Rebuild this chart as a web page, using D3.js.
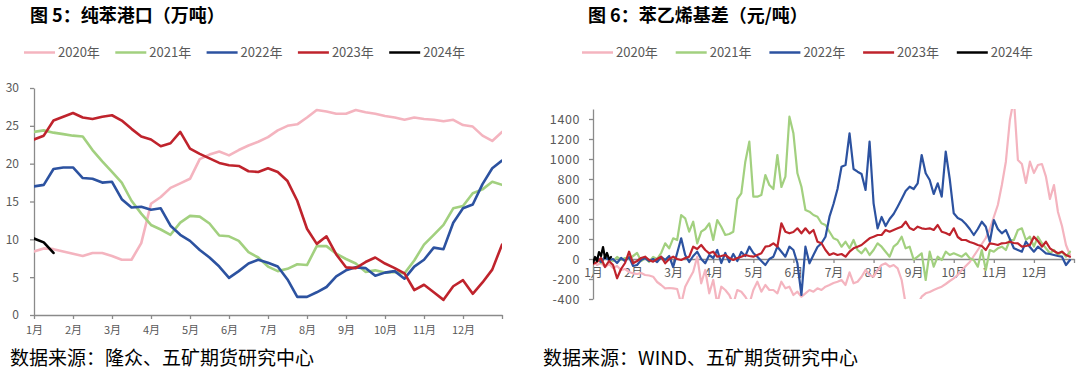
<!DOCTYPE html>
<html>
<head>
<meta charset="utf-8">
<script src="https://cdn.jsdelivr.net/npm/d3@7"></script>
<style>
  body { margin: 0; background: #fff; }
  svg text { font-family: "Noto Sans CJK SC", "Noto Sans", sans-serif; }
</style>
</head>
<body>
<svg id="chart" width="1080" height="374"></svg>
<script>
var months = ['1月', '2月', '3月', '4月', '5月', '6月', '7月', '8月', '9月', '10月', '11月', '12月'];
var years = ['2020年', '2021年', '2022年', '2023年', '2024年'];
var colors = ['#F4B4BF', '#A2D07F', '#2C52A0', '#BF232C', '#000000'];

// 图5 纯苯港口库存 (万吨), one value every quarter month
var portStep = 0.25;
var port2020 = [8.4, 8.8, 8.7, 8.4, 8.1, 7.8, 8.2, 8.2, 7.8, 7.3, 7.3, 9.5, 14.7, 15.6, 16.8, 17.4, 18.0, 20.6, 21.2, 21.6,
  21.1, 21.8, 22.4, 22.9, 23.5, 24.4, 25.0, 25.2, 26.1, 27.1, 26.9, 26.6, 26.6, 27.1, 26.8, 26.6, 26.3, 26.1, 25.8, 26.1,
  25.9, 25.8, 25.6, 25.8, 25.1, 24.9, 23.7, 23.0, 24.2];
var port2021 = [24.2, 24.4, 24.1, 23.9, 23.7, 23.6, 21.8, 20.3, 18.9, 17.5, 15.1, 13.4, 11.9, 11.3, 10.6, 12.2, 13.1, 13.0, 12.1, 10.5,
  10.4, 9.8, 8.3, 7.6, 6.4, 5.8, 6.1, 6.7, 6.6, 9.1, 9.1, 8.1, 7.4, 6.8, 5.7, 5.9, 5.6, 5.7, 5.5, 7.2,
  9.3, 10.6, 11.9, 14.1, 14.4, 16.1, 16.6, 17.6, 17.2];
var port2022 = [17.0, 17.2, 19.3, 19.5, 19.5, 18.1, 18.0, 17.5, 17.6, 15.3, 14.2, 14.3, 13.9, 14.1, 11.8, 10.6, 9.8, 8.6, 7.6, 6.4,
  4.9, 5.8, 6.8, 7.3, 6.9, 6.4, 4.7, 2.4, 2.4, 3.0, 3.7, 5.1, 5.9, 6.3, 6.2, 5.2, 5.6, 5.8, 4.8, 6.4,
  7.3, 8.9, 8.7, 12.2, 14.1, 14.6, 17.3, 19.4, 20.4];
var port2023 = [23.2, 23.7, 25.7, 26.2, 26.7, 26.1, 25.9, 26.2, 26.4, 25.7, 24.6, 23.6, 23.2, 22.3, 22.7, 24.2, 22.0, 21.3, 20.7, 20.1,
  19.8, 19.7, 19.0, 18.9, 19.4, 18.9, 17.7, 15.1, 11.4, 9.4, 10.4, 8.0, 6.3, 6.2, 7.0, 7.6, 6.8, 6.2, 5.5, 3.3,
  4.0, 3.0, 2.0, 3.8, 4.6, 2.8, 4.3, 6.0, 9.3];
var port2024 = [10.1, 9.6, 8.2];
var portTicks = [0, 5, 10, 15, 20, 25, 30];

// 图6 苯乙烯基差 (元/吨), one value every tenth of a month
var basisStep = 0.1;
var basis2020 = [-20, -60, -40, -80, -50, -90, -70, -110, -100, -130,
  -143, -150, -140, -160, -165, -177, -230, -260, -293, -290,
  -293, -300, -450, -277, -200, -127, 23, -243, -110, -343,
  -210, -450, -277, -310, -360, -450, -310, -327, -377, -450,
  -310, -227, -327, -260, -310, -310, -343, -227, -293, -277,
  -360, -327, -377, -343, -310, -327, -293, -310, -277, -260,
  -240, -227, -210, -260, -133, -243, -227, -177, -110, -160,
  -177, -110, -60, -43, -77, -60, -93, -210, -450, -500,
  -500, -450, -377, -343, -330, -310, -293, -277, -250, -220,
  -193, -160, -110, -70, -30, 30, 90, 150, 210, 300,
  420, 540, 740, 973, 1390, 1600, 990, 950, 760, 973,
  860, 940, 950, 823, 600, 740, 470, 330, 140, 40];
var basis2021 = [-30, 10, -40, 30, 0, -20, 20, -10, 10, 0,
  30, 60, -20, 10, -30, 20, 0, 60, 157, 107,
  207, 190, 440, 407, 273, 373, 157, 273, 300, 357,
  190, 390, 323, 240, 250, 273, 600, 657, 973, 1173,
  623, 623, 640, 840, 740, 700, 1040, 720, 823, 1423,
  1257, 857, 723, 490, 473, 440, 423, 357, 340, 273,
  207, 190, 123, 173, 107, 190, 90, 57, 107, 40,
  90, 157, 123, 73, 23, 123, 157, 223, 107, 123,
  -7, 23, 57, -210, 73, -77, 23, -10, 73, 40,
  57, 40, 23, 57, 7, -10, -77, 90, -110, 90,
  73, 107, 123, 90, 190, 190, 290, 307, 190, 223,
  123, 223, 157, 107, 57, 90, 40, 73, 23, 73];
var basis2022 = [-20, 10, -30, 20, -10, 0, -40, 10, -20, 20,
  -70, -60, -10, 10, -20, 0, -30, 20, -10, 30,
  -80, 60, 207, 40, -30, 30, 73, 0, -43, 40,
  10, 90, -40, 60, -30, 50, -20, 70, 30, 123,
  60, 23, -20, -60, 0, 23, 123, 73, 23, 123,
  90, -43, -360, 123, -43, 40, 120, 157, 223, 423,
  550, 700, 923, 940, 1257, 900, 873, 850, 690, 1173,
  557, 307, 420, 330, 400, 450, 523, 600, 680, 723,
  700, 757, 1040, 857, 790, 650, 757, 623, 1073, 800,
  457, 410, 390, 350, 300, 240, 300, 373, 323, 173,
  390, 300, 257, 290, 200, 107, 90, 73, 173, 120,
  73, 123, 90, 57, 50, 40, 30, 23, -60, -10];
var basis2023 = [-50, -30, 10, -80, -20, -60, -193, -100, -40, 73,
  -43, -20, 10, 23, -10, -27, 0, 23, -43, 0,
  23, 0, -10, 10, 23, 123, 100, 140, 90, 57,
  73, 23, 30, 40, 10, -10, 10, 23, 40, 30,
  23, 40, 57, 123, 130, 157, 123, 357, 273, 257,
  270, 307, 257, 307, 257, 290, 173, 157, 90, 40,
  57, 40, 50, 23, 73, 107, 123, 140, 173, 207,
  223, 240, 240, 290, 273, 290, 307, 323, 373, 310,
  290, 323, 307, 300, 307, 290, 340, 273, 260, 240,
  307, 220, 190, 190, 170, 157, 140, 130, 90, 157,
  150, 140, 157, 160, 173, 160, 157, 123, 130, 140,
  223, 180, 123, 173, 107, 80, 57, 73, 40, 23];
var basis2024Step = 0.05;
var basis2024 = [-40, 20, -20, 70, 30, 120, 10, 60, 0, 20];
var basisTicks = [-400, -200, 0, 200, 400, 600, 800, 1000, 1200, 1400];

var svg = d3.select('#chart');

function drawPanel(cfg) {
  var g = svg.append('g');

  var x = d3.scaleLinear().domain([0, 12]).range(cfg.xRange);
  var y = d3.scaleLinear().domain(cfg.yDomain).range(cfg.yRange);

  // title
  g.append('text')
    .attr('x', cfg.titleX).attr('y', 21.5)
    .attr('font-size', 18).attr('font-weight', 'bold').attr('fill', '#000')
    .text(cfg.title);

  // legend
  years.forEach(function (yr, i) {
    var lx = cfg.legendX + i * cfg.legendGap;
    g.append('line')
      .attr('x1', lx).attr('x2', lx + 31).attr('y1', 52.5).attr('y2', 52.5)
      .attr('stroke', colors[i]).attr('stroke-width', 2.5);
    g.append('text')
      .attr('x', lx + 34).attr('y', 57)
      .attr('font-size', 13).attr('fill', '#595959')
      .text(yr);
  });

  // axes
  var xAxis = d3.axisBottom(x)
    .tickValues(d3.range(0, 13))
    .tickFormat(function (i) { return i < 12 ? months[i] : ''; })
    .tickSize(4).tickSizeOuter(0).tickPadding(cfg.xPad);
  var gx = g.append('g')
    .attr('transform', `translate(0,${y(0)})`)
    .call(xAxis);
  gx.selectAll('text').attr('font-size', cfg.xFont);

  var yAxis = d3.axisLeft(y)
    .tickValues(cfg.ticks)
    .tickFormat(function (d) { return String(d); })
    .tickSize(4).tickSizeOuter(0).tickPadding(cfg.yPad);
  var gy = g.append('g')
    .attr('transform', `translate(${cfg.xRange[0]},0)`)
    .call(yAxis);
  gy.selectAll('text').attr('font-size', cfg.yFont).attr('letter-spacing', cfg.ySpacing);

  g.selectAll('.domain, .tick line').attr('stroke', '#8a8a8a').attr('stroke-width', 1.3);
  g.selectAll('.tick text').attr('fill', '#595959').style('font-family', '"Noto Sans CJK SC", "Noto Sans", sans-serif');

  // lines
  var clipId = 'clip' + cfg.id;
  g.append('clipPath').attr('id', clipId)
    .append('rect')
    .attr('x', cfg.xRange[0]).attr('y', cfg.yRange[1])
    .attr('width', cfg.xRange[1] - cfg.xRange[0]).attr('height', cfg.yRange[0] - cfg.yRange[1]);

  var plot = g.append('g').attr('clip-path', `url(#${clipId})`);
  cfg.series.forEach(function (s, i) {
    var line = d3.line()
      .x(function (d, j) { return x(j * s.step); })
      .y(function (d) { return y(d); });
    plot.append('path')
      .datum(s.values)
      .attr('d', line)
      .attr('fill', 'none')
      .attr('stroke', colors[i])
      .attr('stroke-width', cfg.lineWidth)
      .attr('stroke-linejoin', 'round')
      .attr('stroke-linecap', 'round');
  });

  // source
  g.append('text')
    .attr('x', cfg.sourceX).attr('y', 365)
    .attr('font-size', 19).attr('fill', '#000')
    .text(cfg.source);
}

drawPanel({
  id: 'port',
  title: '图 5：纯苯港口（万吨）',
  titleX: 30,
  legendX: 24, legendGap: 91.3,
  xRange: [34, 502],
  yDomain: [0, 30], yRange: [315, 88],
  ticks: portTicks,
  xPad: 7, xFont: 11,
  yPad: 11, yFont: 12, ySpacing: 0,
  lineWidth: 2.6,
  series: [
    { values: port2020, step: portStep },
    { values: port2021, step: portStep },
    { values: port2022, step: portStep },
    { values: port2023, step: portStep },
    { values: port2024, step: portStep }
  ],
  sourceX: 10,
  source: '数据来源：隆众、五矿期货研究中心'
});

drawPanel({
  id: 'basis',
  title: '图 6：苯乙烯基差（元/吨）',
  titleX: 588,
  legendX: 582, legendGap: 93.7,
  xRange: [593, 1074],
  yDomain: [-400, 1500], yRange: [299, 109],
  ticks: basisTicks,
  xPad: 5, xFont: 12,
  yPad: 9, yFont: 12.5, ySpacing: 0.6,
  lineWidth: 2.2,
  series: [
    { values: basis2020, step: basisStep },
    { values: basis2021, step: basisStep },
    { values: basis2022, step: basisStep },
    { values: basis2023, step: basisStep },
    { values: basis2024, step: basis2024Step }
  ],
  sourceX: 543,
  source: '数据来源：WIND、五矿期货研究中心'
});
</script>
</body>
</html>
